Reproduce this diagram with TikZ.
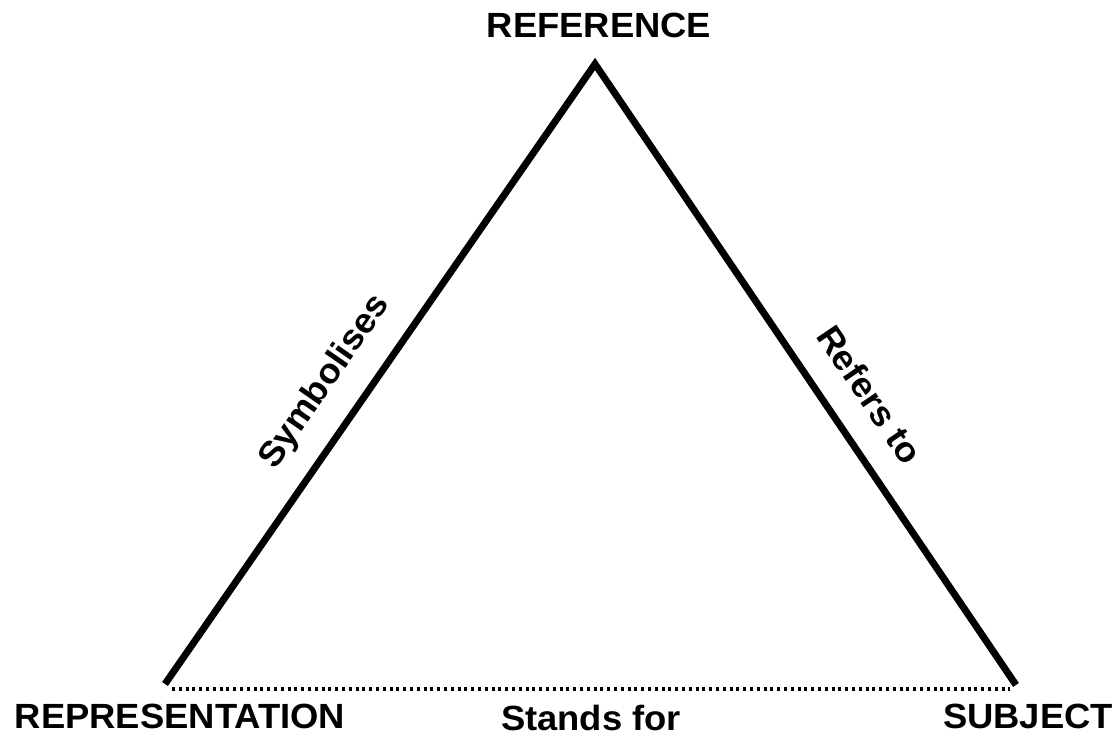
\documentclass[tikz,border=0pt]{standalone}
\usepackage{fontspec}
\setmainfont{Liberation Sans}[FakeStretch=1.04]
\begin{document}
\begin{tikzpicture}[x=1pt,y=-1pt,
  lbl/.style={font=\fontsize{35}{40}\selectfont\bfseries, inner sep=0pt},
  edge/.style={line width=7pt, line join=miter, line cap=butt},
  dotline/.style={line width=3.2pt, dash pattern=on 3pt off 3.8pt}]
\useasboundingbox (0,0) rectangle (1114,733);
\coordinate (T) at (595,64);
\coordinate (L) at (165,684);
\coordinate (R) at (1016,685);
\coordinate (DL) at (172,689);
\coordinate (DR) at (1010,689);
\draw[edge] (L) -- (T) -- (R);
\draw[dotline] (DL) -- (DR);
\node[lbl, anchor=base] (ref) at (599,38) {REFERENCE};
\node[lbl, anchor=base] (rep) at (180,728) {REPRESENTATION};
\node[lbl, anchor=base] (sub) at (1028,728) {SUBJECT};
\node[lbl, anchor=base] (stand) at (591,730) {Stands for};
\path (L) -- node[lbl, pos=0.45, sloped, above=24pt] (sym) {Symbolises} (T);
\path (T) -- node[lbl, pos=0.57, sloped, above=29pt] (refto) {Refers to} (R);
\end{tikzpicture}
\end{document}
